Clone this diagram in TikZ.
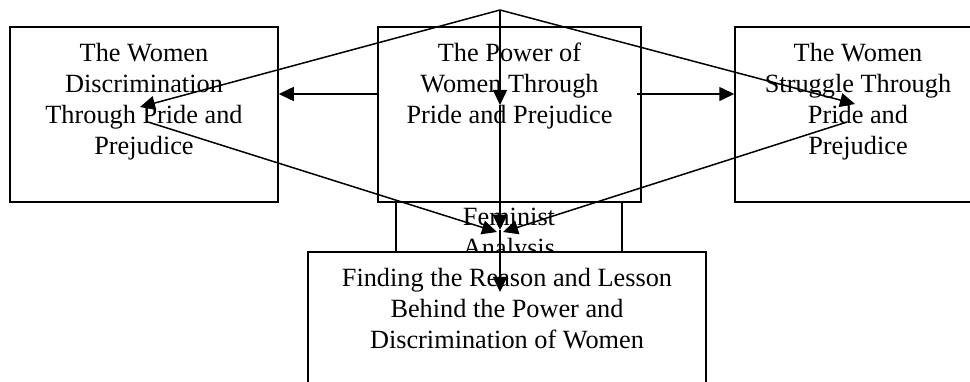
\documentclass[tikz,border=0pt]{standalone}
\usepackage{fontspec}
\setmainfont{Liberation Serif}
\usetikzlibrary{positioning,arrows.meta}

\begin{document}
\begin{tikzpicture}[x=1pt,y=-1pt,
  box/.style={draw=black,line width=1.5pt,fill=white,inner sep=0pt},
  txt/.style={align=center,inner sep=0pt,font=\fontsize{26.3pt}{31pt}\selectfont},
  arr/.style={draw=black,line width=1.5pt,-{Triangle[length=15pt,width=14pt]}}]
\useasboundingbox (0,0) rectangle (970,382);
\clip (0,0) rectangle (970,382);
\node[box,minimum width=268pt,minimum height=175pt] (disc) at (144,114.5) {};
\node[txt,below=17pt of disc.north] (discText) {The Women\\Discrimination\\Through Pride and\\Prejudice};
\node[box,minimum width=263pt,minimum height=175pt] (pow) at (509.5,114.5) {};
\node[txt,below=17pt of pow.north] (powText) {The Power of\\Women Through\\Pride and Prejudice};
\node[box,minimum width=246pt,minimum height=175pt] (strug) at (858,114.5) {};
\node[txt,below=17pt of strug.north] (strugText) {The Women\\Struggle Through\\Pride and\\Prejudice};
\node[box,minimum width=226pt,minimum height=100pt] (fem) at (509,252) {};
\node[txt,below=7pt of fem.north] (femText) {Feminist\\Analysis};
\node[box,minimum width=398pt,minimum height=150pt] (find) at (507,327) {};
\node[txt,below=17pt of find.north] (findText) {Finding the Reason and Lesson\\Behind the Power and\\Discrimination of Women};
\coordinate (apex) at (500,10);
\coordinate (discTip) at (140,107);
\coordinate (strugTip) at (855,104);
\coordinate (powTip) at (500,105);
\coordinate (femTip) at (500,230);
\coordinate (findTip) at (500,292);
\coordinate (discFoot) at (148,122);
\coordinate (strugFoot) at (847,122);
\coordinate (femLeft) at (497,232);
\coordinate (femRight) at (503,232);
\coordinate (powLeft) at (378,94);
\coordinate (powRight) at (637,94);
\draw[arr] (apex) -- (discTip);
\draw[arr] (apex) -- (strugTip);
\draw[arr] (apex) -- (powTip);
\draw[arr] (powTip) -- (femTip);
\draw[arr] (femTip) -- (findTip);
\draw[arr] (discFoot) -- (femLeft);
\draw[arr] (strugFoot) -- (femRight);
\draw[arr] (powLeft) -- (powLeft -| disc.east);
\draw[arr] (powRight) -- (powRight -| strug.west);
\end{tikzpicture}
\end{document}
